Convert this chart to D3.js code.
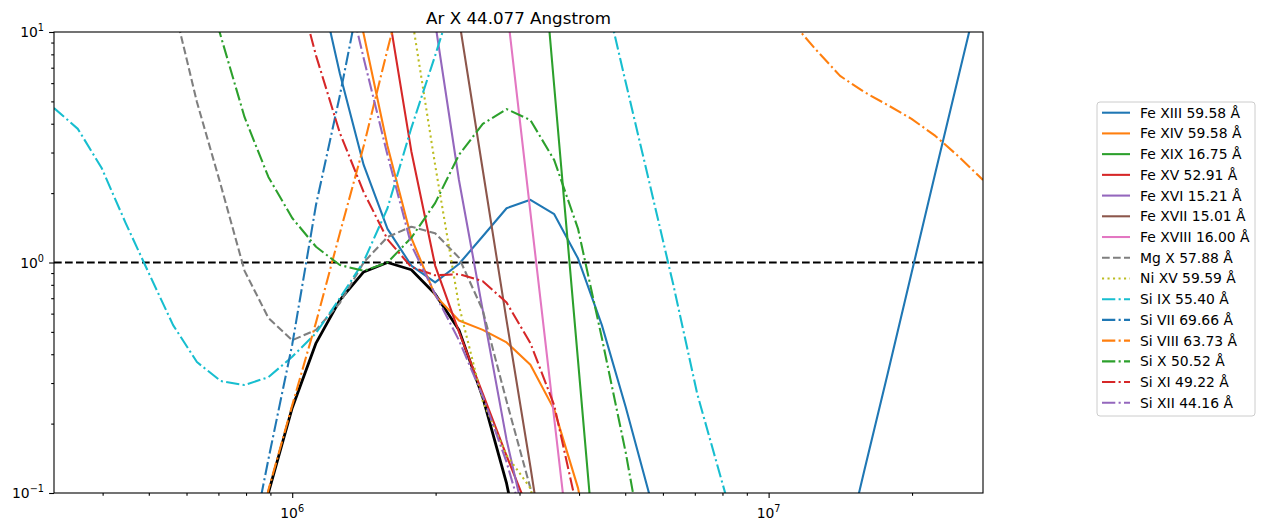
<!DOCTYPE html>
<html>
<head>
<meta charset="utf-8">
<script src="https://cdnjs.cloudflare.com/ajax/libs/d3/7.8.5/d3.min.js"></script>
<style>
    body { margin: 0; background: #fff; }
    text { font-family: "DejaVu Sans", sans-serif; fill: #000; }
</style>
</head>
<body>
<div id="grafica"></div>
<script>
// temperatura (log T)
var logT = [5.50, 5.55, 5.60, 5.65, 5.70, 5.75, 5.80, 5.85, 5.90, 5.95,
            6.00, 6.05, 6.10, 6.15, 6.20, 6.25, 6.30, 6.35, 6.40, 6.45,
            6.50, 6.55, 6.60, 6.65, 6.70, 6.75, 6.80, 6.85, 6.90, 6.95,
            7.00, 7.05, 7.10, 7.15, 7.20, 7.25, 7.30, 7.35, 7.40, 7.45];

// Ar X 44.077 (curva negra)
var arX = [0.0005, 0.0008, 0.0012, 0.002, 0.004, 0.008, 0.015, 0.03, 0.055, 0.1,
           0.234, 0.447, 0.687, 0.91, 1.0, 0.93, 0.73, 0.51, 0.26, 0.11,
           0.035, 0.01, 0.004, 0.002, 0.001, 0.001, 0.001, 0.001, 0.001, 0.001,
           0.001, 0.001, 0.001, 0.001, 0.001, 0.001, 0.001, 0.001, 0.001, 0.001];

var feXIII = [2000, 1200, 800, 500, 300, 200, 130, 90, 60, 40,
              28, 19, 6.6, 2.65, 1.40, 0.97, 0.82, 0.985, 1.30, 1.72,
              1.87, 1.62, 1.04, 0.535, 0.236, 0.098, 0.04, 0.018, 0.009, 0.006,
              0.005, 0.007, 0.015, 0.045, 0.123, 0.33, 0.90, 2.45, 6.6, 17.8];
var feXIV = [3000, 2000, 1500, 1000, 700, 500, 350, 250, 170, 110,
             75, 45, 27, 9.8, 3.2, 1.28, 0.72, 0.56, 0.51, 0.45,
             0.36, 0.23, 0.105, 0.03, 0.01, 0.004, 0.002, 0.001, 0.001, 0.001,
             0.001, 0.001, 0.001, 0.001, 0.001, 0.001, 0.001, 0.001, 0.001, 0.001];
var feXIX = [10000, 10000, 10000, 10000, 10000, 10000, 10000, 10000, 10000, 10000,
             10000, 10000, 10000, 10000, 10000, 10000, 10000, 10000, 10000, 1500,
             91, 5.8, 0.374, 0.024, 0.002, 0.001, 0.001, 0.001, 0.001, 0.001,
             0.001, 0.001, 0.001, 0.001, 0.001, 0.001, 0.001, 0.001, 0.001, 0.001];
var feXV = [5000, 5000, 5000, 5000, 5000, 5000, 4000, 2500, 1500, 800,
            400, 200, 100, 40, 13, 3.04, 0.97, 0.5, 0.27, 0.145,
            0.08, 0.03, 0.01, 0.004, 0.002, 0.001, 0.001, 0.001, 0.001, 0.001,
            0.001, 0.001, 0.001, 0.001, 0.001, 0.001, 0.001, 0.001, 0.001, 0.001];
var feXVI = [5000, 5000, 5000, 5000, 5000, 5000, 5000, 4000, 3000, 2000,
             1200, 700, 400, 200, 100, 40, 11, 2.28, 0.62, 0.17,
             0.06, 0.02, 0.006, 0.002, 0.001, 0.001, 0.001, 0.001, 0.001, 0.001,
             0.001, 0.001, 0.001, 0.001, 0.001, 0.001, 0.001, 0.001, 0.001, 0.001];
var feXVII = [5000, 5000, 5000, 5000, 5000, 5000, 5000, 5000, 4000, 3000,
              2000, 1200, 700, 400, 200, 120, 60, 11.4, 2.52, 0.56,
              0.13, 0.028, 0.006, 0.002, 0.001, 0.001, 0.001, 0.001, 0.001, 0.001,
              0.001, 0.001, 0.001, 0.001, 0.001, 0.001, 0.001, 0.001, 0.001, 0.001];
var feXVIII = [5000, 5000, 5000, 5000, 5000, 5000, 5000, 5000, 5000, 5000,
               5000, 4000, 3000, 2000, 1500, 1000, 600, 400, 200, 13.1,
               1.65, 0.21, 0.027, 0.004, 0.001, 0.001, 0.001, 0.001, 0.001, 0.001,
               0.001, 0.001, 0.001, 0.001, 0.001, 0.001, 0.001, 0.001, 0.001, 0.001];
var mgX = [400, 250, 150, 80, 30, 13.4, 4.97, 2.17, 0.92, 0.575,
           0.46, 0.51, 0.667, 1.0, 1.29, 1.43, 1.34, 1.05, 0.62, 0.25,
           0.105, 0.03, 0.008, 0.002, 0.001, 0.001, 0.001, 0.001, 0.001, 0.001,
           0.001, 0.001, 0.001, 0.001, 0.001, 0.001, 0.001, 0.001, 0.001, 0.001];
var niXV = [5000, 5000, 5000, 5000, 5000, 5000, 5000, 4000, 3000, 2000,
            1200, 700, 400, 200, 50, 12, 2.65, 0.65, 0.25, 0.146,
            0.105, 0.04, 0.01, 0.003, 0.001, 0.001, 0.001, 0.001, 0.001, 0.001,
            0.001, 0.001, 0.001, 0.001, 0.001, 0.001, 0.001, 0.001, 0.001, 0.001];
var siIX = [4.68, 3.8, 2.57, 1.49, 0.89, 0.535, 0.37, 0.306, 0.294, 0.318,
            0.39, 0.494, 0.70, 1.01, 1.72, 3.83, 7.9, 16.8, 35, 60,
            80, 70, 40, 16.8, 6.05, 2.21, 0.80, 0.27, 0.116, 0.05,
            0.02, 0.008, 0.003, 0.001, 0.001, 0.001, 0.001, 0.001, 0.001, 0.001];
var siVII = [0.0005, 0.0008, 0.0012, 0.002, 0.003, 0.005, 0.008, 0.012, 0.042, 0.14,
             0.44, 1.78, 5.3, 17.6, 50, 120, 250, 500, 800, 1000,
             1500, 2000, 2500, 3000, 3000, 3000, 3000, 3000, 3000, 3000,
             3000, 3000, 3000, 3000, 3000, 3000, 3000, 3000, 3000, 3000];
var siVIII = [0.0005, 0.0008, 0.0012, 0.002, 0.003, 0.005, 0.008, 0.015, 0.03, 0.103,
              0.24, 0.55, 1.34, 3.2, 8.4, 21, 50, 100, 200, 300,
              400, 400, 350, 300, 250, 180, 120, 80, 50, 30,
              20, 11, 8.35, 6.45, 5.5, 4.82, 4.2, 3.54, 2.87, 2.28];
var siX = [500, 300, 180, 100, 60, 35, 22, 9.6, 4.27, 2.35,
           1.56, 1.17, 0.975, 0.92, 1.0, 1.28, 1.81, 2.93, 3.99, 4.63,
           4.15, 2.78, 1.4, 0.47, 0.15, 0.04, 0.01, 0.003, 0.001, 0.001,
           0.001, 0.001, 0.001, 0.001, 0.001, 0.001, 0.001, 0.001, 0.001, 0.001];
var siXI = [5000, 4000, 3000, 2000, 1200, 700, 400, 150, 70, 35,
            19.5, 7.9, 3.65, 2.02, 1.26, 0.956, 0.88, 0.89, 0.83, 0.67,
            0.447, 0.24, 0.082, 0.02, 0.005, 0.001, 0.001, 0.001, 0.001, 0.001,
            0.001, 0.001, 0.001, 0.001, 0.001, 0.001, 0.001, 0.001, 0.001, 0.001];
var siXII = [5000, 5000, 5000, 5000, 4000, 3000, 2000, 1200, 700, 300,
             120, 55, 21, 7.7, 2.93, 1.19, 0.73, 0.46, 0.263, 0.136,
             0.06, 0.02, 0.006, 0.002, 0.001, 0.001, 0.001, 0.001, 0.001, 0.001,
             0.001, 0.001, 0.001, 0.001, 0.001, 0.001, 0.001, 0.001, 0.001, 0.001];

var nombres = ["Fe XIII 59.58 Å", "Fe XIV 59.58 Å", "Fe XIX 16.75 Å", "Fe XV 52.91 Å",
               "Fe XVI 15.21 Å", "Fe XVII 15.01 Å", "Fe XVIII 16.00 Å", "Mg X 57.88 Å",
               "Ni XV 59.59 Å", "Si IX 55.40 Å", "Si VII 69.66 Å", "Si VIII 63.73 Å",
               "Si X 50.52 Å", "Si XI 49.22 Å", "Si XII 44.16 Å"];
var valores = [feXIII, feXIV, feXIX, feXV, feXVI, feXVII, feXVIII, mgX,
               niXV, siIX, siVII, siVIII, siX, siXI, siXII];
var colores = ["#1f77b4", "#ff7f0e", "#2ca02c", "#d62728", "#9467bd", "#8c564b", "#e377c2", "#7f7f7f",
               "#bcbd22", "#17becf", "#1f77b4", "#ff7f0e", "#2ca02c", "#d62728", "#9467bd"];
var estilos = ["-", "-", "-", "-", "-", "-", "-", "--", ":", "-.", "-.", "-.", "-.", "-.", "-."];

var guiones = {"-": null, "--": "7.7,3.3", ":": "2.1,3.4", "-.": "13.3,3.3,2.1,3.3"};

var svg = d3.select("#grafica").append("svg")
        .attr("width", 1264)
        .attr("height", 532);

var margin = {top: 32, left: 54, right: 983, bottom: 493};

var x = d3.scaleLog()
        .domain([Math.pow(10, logT[0]), Math.pow(10, logT[logT.length - 1])])
        .range([margin.left, margin.right]);
var y = d3.scaleLog()
        .domain([0.1, 10])
        .range([margin.bottom, margin.top]);

svg.append("defs").append("clipPath")
        .attr("id", "recorte")
        .append("rect")
        .attr("x", margin.left)
        .attr("y", margin.top)
        .attr("width", margin.right - margin.left)
        .attr("height", margin.bottom - margin.top);

var line = d3.line()
        .x(function (d, i) {
            return x(Math.pow(10, logT[i]));
        })
        .y(function (d) {
            return y(d);
        });

var g = svg.append("g").attr("clip-path", "url(#recorte)");

// curva de Ar X
g.append("path")
        .datum(arX)
        .attr("fill", "none")
        .attr("stroke", "#000")
        .attr("stroke-width", 2.8)
        .attr("stroke-linejoin", "round")
        .attr("d", line);

// ratio = 1
g.append("line")
        .attr("x1", margin.left)
        .attr("x2", margin.right)
        .attr("y1", y(1))
        .attr("y2", y(1))
        .attr("stroke", "#000")
        .attr("stroke-width", 2.1)
        .attr("stroke-dasharray", guiones["--"]);

g.selectAll(".serie")
        .data(valores)
        .enter()
        .append("path")
        .attr("class", "serie")
        .attr("fill", "none")
        .attr("stroke", function (d, i) {
            return colores[i];
        })
        .attr("stroke-width", 2.08)
        .attr("stroke-linejoin", "round")
        .attr("stroke-dasharray", function (d, i) {
            return guiones[estilos[i]];
        })
        .attr("d", line);

// ejes
var mayoresX = [1e6, 1e7];
var menoresX = x.ticks().filter(function (t) {
    return mayoresX.indexOf(t) < 0;
});
var mayoresY = [0.1, 1, 10];
var menoresY = y.ticks().filter(function (t) {
    return Math.abs(Math.log10(t) - Math.round(Math.log10(t))) > 1e-6;
});

svg.append("g")
        .attr("transform", "translate(0," + margin.bottom + ")")
        .call(d3.axisBottom(x).tickValues(menoresX).tickSize(2.8).tickFormat(""))
        .call(function (s) { s.select(".domain").remove(); });
svg.append("g")
        .attr("transform", "translate(0," + margin.bottom + ")")
        .call(d3.axisBottom(x).tickValues(mayoresX).tickSize(4.9).tickFormat(""))
        .call(function (s) { s.select(".domain").remove(); });
svg.append("g")
        .attr("transform", "translate(" + margin.left + ",0)")
        .call(d3.axisLeft(y).tickValues(menoresY).tickSize(2.8).tickFormat(""))
        .call(function (s) { s.select(".domain").remove(); });
svg.append("g")
        .attr("transform", "translate(" + margin.left + ",0)")
        .call(d3.axisLeft(y).tickValues(mayoresY).tickSize(4.9).tickFormat(""))
        .call(function (s) { s.select(".domain").remove(); });
svg.selectAll(".tick line").attr("stroke-width", 1.1);

svg.append("rect")
        .attr("x", margin.left)
        .attr("y", margin.top)
        .attr("width", margin.right - margin.left)
        .attr("height", margin.bottom - margin.top)
        .attr("fill", "none")
        .attr("stroke", "#000")
        .attr("stroke-width", 1.1);

var etX = svg.selectAll(".etx")
        .data(mayoresX)
        .enter()
        .append("text")
        .attr("class", "etx")
        .attr("x", function (d) {
            return x(d);
        })
        .attr("y", 518)
        .attr("text-anchor", "middle")
        .style("font-size", "13.9px");
etX.append("tspan").text("10");
etX.append("tspan")
        .attr("dy", -6)
        .style("font-size", "9.7px")
        .text(function (d) {
            return Math.round(Math.log10(d));
        });

var etY = svg.selectAll(".ety")
        .data(mayoresY)
        .enter()
        .append("text")
        .attr("class", "ety")
        .attr("x", 44)
        .attr("y", function (d) {
            return y(d) + 5;
        })
        .attr("text-anchor", "end")
        .style("font-size", "13.9px");
etY.append("tspan").text("10");
etY.append("tspan")
        .attr("dy", -6)
        .style("font-size", "9.7px")
        .text(function (d) {
            var e = Math.round(Math.log10(d));
            return e < 0 ? "\u2212" + (-e) : e;
        });

svg.append("text")
        .attr("x", (margin.left + margin.right) / 2)
        .attr("y", 24)
        .attr("text-anchor", "middle")
        .style("font-size", "16.7px")
        .text("Ar X 44.077 Angstrom");

// leyenda
var leyenda = svg.append("g");
leyenda.append("rect")
        .attr("x", 1097)
        .attr("y", 102)
        .attr("width", 158)
        .attr("height", 314)
        .attr("rx", 3)
        .attr("fill", "#fff")
        .attr("stroke", "#ccc")
        .attr("stroke-width", 1);

var filas = leyenda.selectAll(".fila")
        .data(nombres)
        .enter()
        .append("g")
        .attr("class", "fila")
        .attr("transform", function (d, i) {
            return "translate(0," + (112.7 + i * 20.72) + ")";
        });
filas.append("line")
        .attr("x1", 1102)
        .attr("x2", 1130)
        .attr("stroke", function (d, i) {
            return colores[i];
        })
        .attr("stroke-width", 2.08)
        .attr("stroke-dasharray", function (d, i) {
            return guiones[estilos[i]];
        });
filas.append("text")
        .attr("x", 1140)
        .attr("y", 5)
        .style("font-size", "13.9px")
        .text(function (d) {
            return d;
        });
</script>
</body>
</html>
